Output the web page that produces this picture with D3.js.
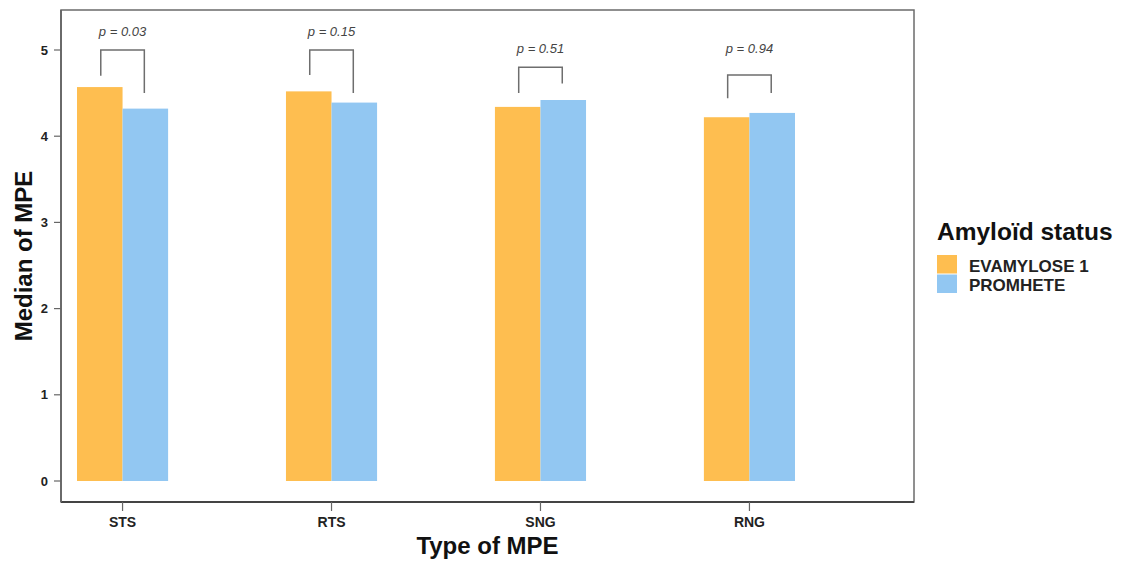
<!DOCTYPE html>
<html>
<head>
<meta charset="utf-8">
<script src="https://cdn.jsdelivr.net/npm/d3@7"></script>
<style>
  body { margin: 0; background: #fff; }
  text { font-family: "Liberation Sans", Arial, sans-serif; }
</style>
</head>
<body>
<div id="chart"></div>
<script>
// categories and groups
const types = ["STS", "RTS", "SNG", "RNG"];
const groups = ["EVAMYLOSE 1", "PROMHETE"];

// median of MPE per type, one array per group
const evamylose = [4.57, 4.52, 4.34, 4.22];
const promhete = [4.32, 4.39, 4.42, 4.27];

// significance brackets (data units) and p labels
const bracketTop = [5.00, 5.00, 4.80, 4.71];
const bracketLeft = [4.70, 4.71, 4.50, 4.44];
const bracketRight = [4.50, 4.50, 4.61, 4.50];
const pHeight = [5.16, 5.16, 4.96, 4.96];
const pLabels = ["p = 0.03", "p = 0.15", "p = 0.51", "p = 0.94"];

const yTicks = [0, 1, 2, 3, 4, 5];
const palette = {"EVAMYLOSE 1": "#FEBE50", "PROMHETE": "#92C7F2"};

const W = 1121, H = 562;
const svg = d3.select("#chart").append("svg")
  .attr("width", W).attr("height", H);

// panel box
const panel = {left: 61, right: 914, top: 10, bottom: 502};

const x = d3.scaleBand()
  .domain(types)
  .range([77, 795])
  .paddingInner(0.564)
  .paddingOuter(0);

const xSub = d3.scaleBand()
  .domain(groups)
  .range([0, x.bandwidth()]);

const y = d3.scaleLinear()
  .domain([0, 5])
  .range([481, 50]);

// build table for bars
const rows = [];
types.forEach(function(t, i) {
  rows.push({type: t, group: groups[0], value: evamylose[i]});
  rows.push({type: t, group: groups[1], value: promhete[i]});
});

// bars
svg.append("g").selectAll("rect")
  .data(rows).enter()
  .append("rect")
  .attr("x", d => x(d.type) + xSub(d.group))
  .attr("y", d => y(d.value))
  .attr("width", xSub.bandwidth())
  .attr("height", d => y(0) - y(d.value))
  .attr("fill", d => palette[d.group]);

// panel border
svg.append("rect")
  .attr("x", panel.left).attr("y", panel.top)
  .attr("width", panel.right - panel.left)
  .attr("height", panel.bottom - panel.top)
  .attr("fill", "none")
  .attr("stroke", "#6b6b6b")
  .attr("stroke-width", 1.5);

// axis lines (darker, left and bottom)
svg.append("line")
  .attr("x1", panel.left).attr("x2", panel.right)
  .attr("y1", panel.bottom).attr("y2", panel.bottom)
  .attr("stroke", "#444").attr("stroke-width", 2.2);
svg.append("line")
  .attr("x1", panel.left).attr("x2", panel.left)
  .attr("y1", panel.top).attr("y2", panel.bottom)
  .attr("stroke", "#666").attr("stroke-width", 1.8);

// significance brackets
const brackets = svg.append("g")
  .selectAll("g")
  .data(types).enter()
  .append("g");

brackets.append("path")
  .attr("d", function(t, i) {
    var x1 = x(t) + xSub(groups[0]) + xSub.bandwidth() / 2 + 1,
        x2 = x(t) + xSub(groups[1]) + xSub.bandwidth() / 2 - 1;
    return "M" + x1 + "," + y(bracketLeft[i]) +
           "V" + y(bracketTop[i]) +
           "H" + x2 +
           "V" + y(bracketRight[i]);
  })
  .attr("fill", "none")
  .attr("stroke", "#6e6e6e")
  .attr("stroke-width", 1.5);

brackets.append("text")
  .attr("x", t => x(t) + x.bandwidth() / 2)
  .attr("y", (t, i) => y(pHeight[i]))
  .attr("text-anchor", "middle")
  .attr("font-size", 13)
  .attr("font-style", "italic")
  .attr("fill", "#444")
  .text((t, i) => pLabels[i]);

// y axis ticks
const yAxis = svg.append("g");
yAxis.selectAll("line")
  .data(yTicks).enter()
  .append("line")
  .attr("x1", panel.left - 7).attr("x2", panel.left)
  .attr("y1", d => y(d)).attr("y2", d => y(d))
  .attr("stroke", "#666").attr("stroke-width", 1.2);
yAxis.selectAll("text")
  .data(yTicks).enter()
  .append("text")
  .attr("x", panel.left - 13)
  .attr("y", d => y(d))
  .attr("dy", "0.36em")
  .attr("text-anchor", "end")
  .attr("font-size", 13)
  .attr("font-weight", "bold")
  .attr("fill", "#222")
  .text(d => d);

// x axis ticks
const xAxis = svg.append("g");
xAxis.selectAll("line")
  .data(types).enter()
  .append("line")
  .attr("x1", d => x(d) + x.bandwidth() / 2)
  .attr("x2", d => x(d) + x.bandwidth() / 2)
  .attr("y1", panel.bottom).attr("y2", panel.bottom + 9)
  .attr("stroke", "#666").attr("stroke-width", 1.2);
xAxis.selectAll("text")
  .data(types).enter()
  .append("text")
  .attr("x", d => x(d) + x.bandwidth() / 2)
  .attr("y", panel.bottom + 25)
  .attr("text-anchor", "middle")
  .attr("font-size", 14)
  .attr("font-weight", "bold")
  .attr("fill", "#222")
  .text(d => d);

// axis titles
svg.append("text")
  .attr("x", (panel.left + panel.right) / 2)
  .attr("y", 554)
  .attr("text-anchor", "middle")
  .attr("font-size", 24)
  .attr("font-weight", "bold")
  .attr("fill", "#111")
  .text("Type of MPE");

svg.append("text")
  .attr("transform", "translate(32," + ((panel.top + panel.bottom) / 2) + ") rotate(-90)")
  .attr("text-anchor", "middle")
  .attr("font-size", 24)
  .attr("font-weight", "bold")
  .attr("fill", "#111")
  .text("Median of MPE");

// legend
const legend = svg.append("g").attr("transform", "translate(937,0)");
legend.append("text")
  .attr("x", 0).attr("y", 240)
  .attr("font-size", 24.5)
  .attr("font-weight", "bold")
  .attr("fill", "#111")
  .text("Amyloïd status");

const items = legend.selectAll("g.item")
  .data(groups).enter()
  .append("g")
  .attr("class", "item")
  .attr("transform", (d, i) => "translate(0," + (255 + i * 19.5) + ")");
items.append("rect")
  .attr("width", 20).attr("height", 18.5)
  .attr("fill", d => palette[d]);
items.append("text")
  .attr("x", 32).attr("y", 16.5)
  .attr("font-size", 17)
  .attr("font-weight", "bold")
  .attr("fill", "#222")
  .text(d => d);
</script>
</body>
</html>
